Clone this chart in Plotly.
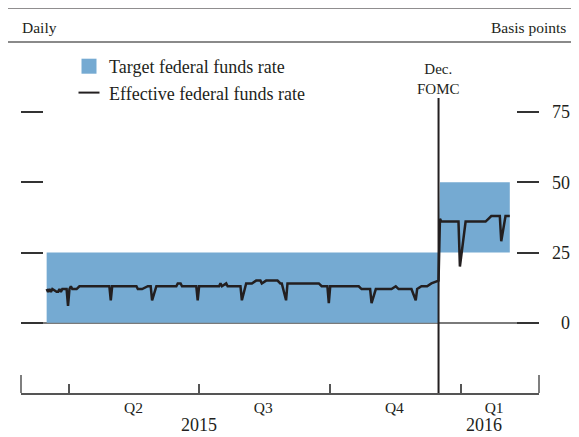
import plotly.graph_objects as go

# ---------------- data ----------------
effr_dates = [
    "2015-03-16", "2015-03-17", "2015-03-18", "2015-03-19", "2015-03-20",
    "2015-03-23", "2015-03-24", "2015-03-25", "2015-03-26", "2015-03-27",
    "2015-03-30", "2015-03-31", "2015-04-01", "2015-04-02", "2015-04-03",
    "2015-04-06", "2015-04-08", "2015-04-29", "2015-04-30", "2015-05-01",
    "2015-05-18", "2015-05-19", "2015-05-22", "2015-05-26", "2015-05-28",
    "2015-05-29", "2015-06-01", "2015-06-15", "2015-06-16", "2015-06-18",
    "2015-06-19", "2015-06-29", "2015-06-30", "2015-07-01", "2015-07-15",
    "2015-07-16", "2015-07-17", "2015-07-20", "2015-07-21", "2015-07-30",
    "2015-07-31", "2015-08-03", "2015-08-07", "2015-08-10", "2015-08-13",
    "2015-08-14", "2015-08-17", "2015-08-25", "2015-08-27", "2015-08-28",
    "2015-08-31", "2015-09-01", "2015-09-23", "2015-09-25", "2015-09-29",
    "2015-09-30", "2015-10-01", "2015-10-21", "2015-10-23", "2015-10-29",
    "2015-10-30", "2015-11-02", "2015-11-13", "2015-11-16", "2015-11-18",
    "2015-11-27", "2015-11-30", "2015-12-01", "2015-12-04", "2015-12-08",
    "2015-12-11", "2015-12-15", "2015-12-16", "2015-12-17", "2015-12-18",
    "2015-12-30", "2015-12-31", "2016-01-04", "2016-01-18", "2016-01-20",
    "2016-01-22", "2016-01-28", "2016-01-29", "2016-02-01", "2016-02-04",
]
effr_values = [
    12, 11, 12, 11, 12,
    11, 11, 12, 11, 12,
    12, 6, 12, 13, 12,
    12, 13, 13, 8, 13,
    13, 12, 12, 13, 13,
    8, 13, 13, 14, 14,
    13, 13, 8, 13, 13,
    14, 13, 14, 13, 13,
    8, 14, 14, 15, 15,
    14, 15, 15, 14, 14,
    8, 14, 14, 13, 13,
    7, 13, 13, 12, 12,
    7, 12, 12, 13, 12,
    12, 8, 12, 13, 13,
    14, 15, 15, 37, 36,
    36, 20, 36, 36, 37,
    38, 38, 29, 38, 38,
]

target_dates = ["2015-03-16", "2015-12-16", "2015-12-17", "2016-02-04"]
target_low = [0, 0, 25, 25]
target_high = [25, 25, 50, 50]

fomc_date = "2015-12-16"

x_range = ["2015-02-26", "2016-02-24 12:00"]
y_range = [-25, 80]
y_ticks = [0, 25, 50, 75]
y_ticklabels = ["0", "25", "50", "75"]

quarter_starts = ["2015-04-01", "2015-07-01", "2015-10-01", "2016-01-01"]
quarter_label_dates = ["2015-05-16", "2015-08-15", "2015-11-15", "2016-01-24"]
quarter_labels = ["Q2", "Q3", "Q4", "Q1"]
year_label_dates = ["2015-07-01", "2016-01-17"]
year_labels = ["2015", "2016"]

# ---------------- styling ----------------
OFF = 8                       # page body margin of the exported html
W, H = 579 - OFF, 437 - OFF
L, R, T, B = 21 - OFF, 539 - OFF, 98 - OFF, 393 - OFF
PW, PH = R - L, B - T
FONT = "Liberation Serif, Times New Roman, serif"
BLUE = "#75aad2"
INK = "#231f20"


def pxx(px):
    return (px - OFF - L) / PW


def pxy(py):
    return (B - (py - OFF)) / PH


# right-align the labels (figure space = digit width)
y_ticktext = ["\u2007" * (2 - len(s)) + s for s in y_ticklabels]

fig = go.Figure()

# target range band
fig.add_trace(go.Scatter(x=target_dates, y=target_low, mode="lines",
                         line=dict(width=0, color=BLUE), showlegend=False,
                         hoverinfo="skip"))
fig.add_trace(go.Scatter(x=target_dates, y=target_high, mode="lines",
                         line=dict(width=0, color=BLUE), fill="tonexty",
                         fillcolor=BLUE, showlegend=False, hoverinfo="skip"))
# effective rate
fig.add_trace(go.Scatter(x=effr_dates, y=effr_values, mode="lines",
                         line=dict(width=2.5, color=INK), showlegend=False))

# legend proxies
fig.add_trace(go.Scatter(x=[None], y=[None], mode="markers",
                         name="Target federal funds rate",
                         marker=dict(symbol="square", size=15, color=BLUE)))
fig.add_trace(go.Scatter(x=[None], y=[None], mode="markers",
                         name="Effective federal funds rate",
                         marker=dict(symbol="line-ew", size=15,
                                     line=dict(width=2, color=INK))))

# FOMC line
fig.add_shape(type="line", xref="x", yref="paper", x0=fomc_date, x1=fomc_date,
              y0=0, y1=1, line=dict(color=INK, width=2))

# end ticks of x axis
for xe in (0, 1):
    fig.add_shape(type="line", xref="paper", yref="paper", x0=xe, x1=xe,
                  y0=0, y1=18 / PH, line=dict(color="#555", width=1.5))

# header rules
fig.add_shape(type="line", xref="paper", yref="paper", x0=pxx(8), x1=pxx(579),
              y0=pxy(7), y1=pxy(7), line=dict(color=INK, width=3))
fig.add_shape(type="line", xref="paper", yref="paper", x0=pxx(8), x1=pxx(579),
              y0=pxy(42), y1=pxy(42), line=dict(color="#8a8a8a", width=2))

fig.add_annotation(text="Daily", xref="paper", yref="paper", x=pxx(20), y=pxy(28),
                   xanchor="left", yanchor="middle", showarrow=False,
                   font=dict(family=FONT, size=15.5, color=INK))
fig.add_annotation(text="Basis points", xref="paper", yref="paper", x=pxx(568),
                   y=pxy(28), xanchor="right", yanchor="middle", showarrow=False,
                   font=dict(family=FONT, size=15.5, color=INK))
fig.add_annotation(text="Dec.<br>FOMC", xref="x", yref="paper", x=fomc_date,
                   y=1, yanchor="bottom", xanchor="center", showarrow=False,
                   font=dict(family=FONT, size=15, color=INK), yshift=-1)

for d, t in zip(year_label_dates, year_labels):
    fig.add_annotation(text=t, xref="x", yref="paper", x=d, y=pxy(425),
                       yanchor="middle", xanchor="center", showarrow=False,
                       font=dict(family=FONT, size=18, color=INK))

fig.update_layout(
    width=W, height=H,
    margin=dict(l=L, r=W - R, t=T, b=H - B, pad=0, autoexpand=False),
    paper_bgcolor="white", plot_bgcolor="white",
    showlegend=True,
    legend=dict(x=pxx(69), y=pxy(48), xanchor="left", yanchor="top",
                traceorder="normal",
                font=dict(family=FONT, size=18, color=INK),
                bgcolor="rgba(0,0,0,0)", tracegroupgap=0, itemwidth=30),
    xaxis=dict(type="date", range=x_range, showgrid=False, zeroline=False,
               showline=True, linecolor="#555", linewidth=1.5,
               tickmode="array", tickvals=quarter_label_dates,
               ticktext=quarter_labels, ticks="", ticklabelstandoff=0,
               tickfont=dict(family=FONT, size=15.5, color=INK),
               automargin=False,
               minor=dict(tickmode="array", tickvals=quarter_starts,
                          ticks="inside", ticklen=9, tickcolor="#555",
                          tickwidth=1.5, showgrid=False)),
    yaxis=dict(range=y_range, side="right", showgrid=False, showline=False,
               zeroline=True, zerolinecolor="#7a7a7a", zerolinewidth=1.5,
               tickmode="array", tickvals=y_ticks, ticktext=y_ticktext,
               ticks="inside", ticklen=22, tickcolor="#333", tickwidth=1.5,
               mirror="ticks", ticklabelstandoff=12, automargin=False,
               tickfont=dict(family=FONT, size=18, color=INK)),
)

fig.write_html("out.html")
